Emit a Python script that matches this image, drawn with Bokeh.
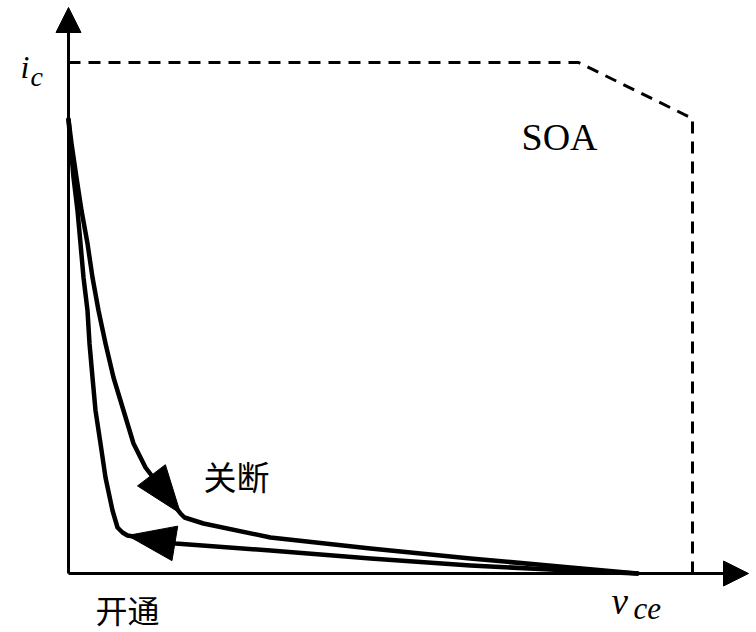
import numpy as np
from bokeh.plotting import figure
from bokeh.models import Range1d, Arrow, NormalHead
from bokeh.core.properties import value
from bokeh.embed import file_html
from bokeh.resources import INLINE

# ---- data (v_ce, i_c) in drawing units; origin at the axes' corner ----
# turn-off trajectory (关断): from top-left, down to the knee, then out along v_ce
off_v = [0, 3, 8, 13, 19, 24, 30, 37, 45, 55, 65, 77, 93, 112, 116, 135, 202, 302, 402, 502, 569]
off_i = [454, 430, 396, 363, 330, 296, 263, 230, 196, 163, 130, 106, 85, 60, 56, 50, 36, 25, 15, 6, 0]
off_arrow_at = 13         # index of the knee where the arrow tip sits

# turn-on trajectory (开通): from the right end, along v_ce to the knee, then up
on_v = [569, 502, 402, 302, 202, 107, 59, 54, 49, 44, 37, 32, 27, 24, 21, 19, 15, 12, 9, 5, 2, 0]
on_i = [0, 3, 8, 15, 23, 30, 38, 41, 46, 63, 96, 130, 163, 196, 230, 263, 296, 330, 363, 396, 430, 454]
on_arrow_at = 6

# safe operating area boundary
soa_v = [0, 510, 624, 624]
soa_i = [511, 511, 455, 0]

# axes extents
v_axis_end = 680
i_axis_end = 566

FONT_LATIN = "Liberation Serif"
FONT_CJK = "Noto Sans CJK SC"

p = figure(width=756, height=632, output_backend="svg", toolbar_location=None,
           x_range=Range1d(-68, 688), y_range=Range1d(-59, 573),
           min_border=0, min_border_left=0, min_border_right=0,
           min_border_top=0, min_border_bottom=0)
p.axis.visible = False
p.grid.visible = False
p.outline_line_color = None
p.background_fill_color = "white"
p.border_fill_color = "white"

# axes with arrow heads
p.add_layout(Arrow(end=NormalHead(size=25, fill_color="black", line_color="black", line_width=1),
                   x_start=0, y_start=0, x_end=v_axis_end, y_end=0,
                   line_width=3, line_color="black"))
p.add_layout(Arrow(end=NormalHead(size=25, fill_color="black", line_color="black", line_width=1),
                   x_start=0, y_start=0, x_end=0, y_end=i_axis_end,
                   line_width=3, line_color="black"))

# SOA dashed boundary
p.line(soa_v, soa_i, line_width=3, line_color="black", line_dash="12 8")

# trajectories
p.line(off_v, off_i, line_width=4.5, line_color="black", line_join="round", line_cap="round")
p.line(on_v, on_i, line_width=4.5, line_color="black", line_join="round", line_cap="round")


def head(vs, is_, k, back, length=48, width=35):
    tip = np.array([vs[k], is_[k]], dtype=float)
    prev = np.array([vs[k + back], is_[k + back]], dtype=float)
    d = tip - prev
    d /= np.hypot(*d)
    n = np.array([-d[1], d[0]])
    base = tip - d * length
    a = base + n * width / 2
    b = base - n * width / 2
    return [tip[0], a[0], b[0]], [tip[1], a[1], b[1]]

hx1, hy1 = head(off_v, off_i, off_arrow_at, -2)
hx2, hy2 = head(on_v, on_i, on_arrow_at, -1)
p.patches([hx1, hx2], [hy1, hy2], fill_color="black", line_color="black", line_width=1)

# labels
def label(x, y, t, size, font=FONT_LATIN, style="normal", align="left", baseline="alphabetic"):
    p.text(x=[x], y=[y], text=[t], text_font=value(font), text_font_style=style,
           text_font_size=size, text_align=align, text_baseline=baseline, text_color="black")

label(-48, 507, "i", "32px", style="italic")
label(-38, 497, "c", "28px", style="italic")
label(543, -28, "v", "37px", style="italic")
label(565, -35, "ce", "31px", style="italic")
label(453, 437, "SOA", "38px")
label(59, -35, "开通", "32px", font=FONT_CJK, align="center", baseline="middle")
label(168, 98, "关断", "33px", font=FONT_CJK, align="center", baseline="middle")

open("out.html", "w").write(file_html(p, INLINE))
